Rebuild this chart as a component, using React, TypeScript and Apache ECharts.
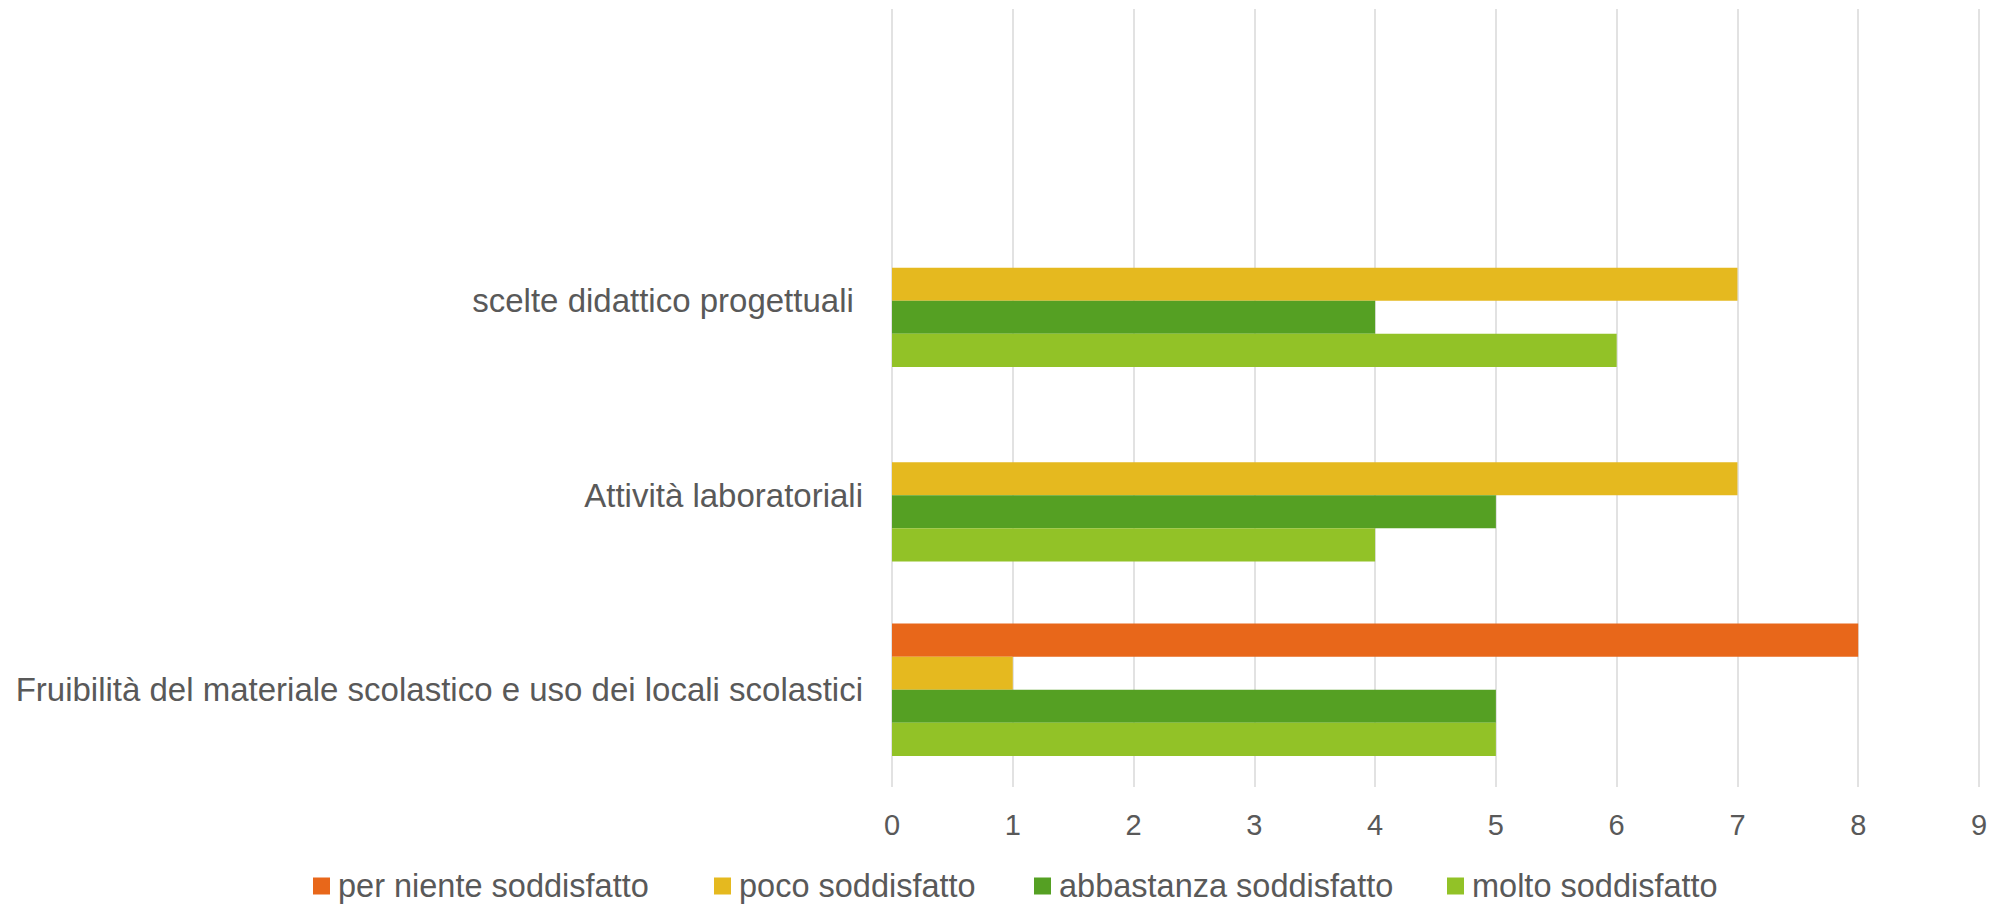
import React, { useEffect, useRef } from "react";
import * as echarts from "echarts";

const categories = [
  "",
  "scelte didattico progettuali ",
  "Attività laboratoriali",
  "Fruibilità del materiale scolastico e uso dei locali scolastici",
];
const seriesNames = [
  "per niente soddisfatto",
  "poco soddisfatto",
  "abbastanza soddisfatto",
  "molto soddisfatto",
];
const perNiente = [0, 0, 0, 8];
const poco = [0, 7, 7, 1];
const abbastanza = [0, 4, 5, 5];
const molto = [0, 6, 4, 5];
const xTicks = [0, 1, 2, 3, 4, 5, 6, 7, 8, 9];

const colors = ["#E8671A", "#E5B91F", "#55A023", "#92C227"];
const legendLefts = [308, 709, 1029, 1442];
const FONT = "'Liberation Sans', Arial, sans-serif";
const TEXT = "#595959";

export default function App() {
  const ref = useRef<HTMLDivElement>(null);
  useEffect(() => {
    if (!ref.current) return;
    const chart = echarts.init(ref.current, undefined, { renderer: "svg" });
    const values = [perNiente, poco, abbastanza, molto];
    chart.setOption({
      animation: false,
      backgroundColor: "#ffffff",
      textStyle: { fontFamily: FONT },
      grid: { left: 892, right: 12, top: 9, height: 778, containLabel: false },
      legend: seriesNames.map((name, i) => ({
        left: legendLefts[i],
        top: 864,
        itemWidth: 17,
        itemHeight: 17,
        icon: "rect",
        data: [name],
        textStyle: {
          fontFamily: FONT,
          fontSize: 32.5,
          lineHeight: 34,
          color: TEXT,
          padding: [0, 0, 0, 3],
        },
      })),
      xAxis: {
        type: "value",
        min: xTicks[0],
        max: xTicks[xTicks.length - 1],
        interval: 1,
        axisLine: { show: false },
        axisTick: { show: false },
        splitLine: { show: true, lineStyle: { color: "#D9D9D9", width: 1.5 } },
        axisLabel: {
          fontFamily: FONT,
          fontSize: 29,
          color: TEXT,
          margin: 23,
        },
      },
      yAxis: {
        type: "category",
        inverse: true,
        data: categories,
        axisLine: { show: false },
        axisTick: { show: false },
        splitLine: { show: false },
        axisLabel: {
          fontFamily: FONT,
          fontSize: 33,
          color: TEXT,
          margin: 29,
        },
      },
      series: seriesNames.map((name, i) => ({
        name,
        type: "bar",
        data: values[i],
        barGap: "0%",
        barCategoryGap: "32%",
        itemStyle: { color: colors[i] },
      })),
    });
    return () => chart.dispose();
  }, []);
  return (
    <div
      ref={ref}
      style={{ position: "fixed", left: 0, top: 0, width: 1991, height: 906 }}
    />
  );
}
